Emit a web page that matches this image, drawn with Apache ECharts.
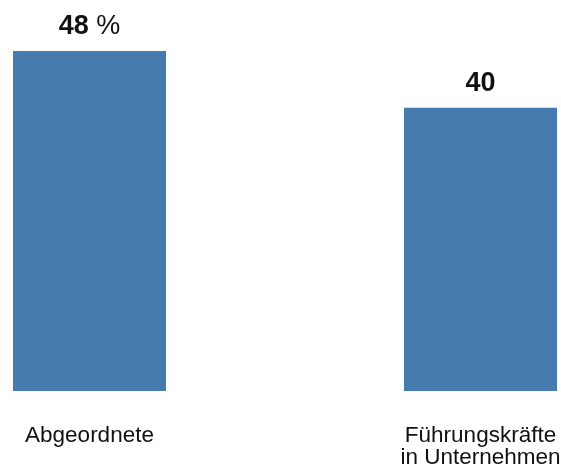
<!DOCTYPE html>
<html>
<head>
<meta charset="utf-8">
<script src="https://cdn.jsdelivr.net/npm/echarts@6/dist/echarts.min.js"></script>
<style>
  html, body { margin: 0; padding: 0; background: #fff; }
  #chart { width: 561px; height: 470px; }
</style>
</head>
<body>
<div id="chart"></div>
<script>
// Share of women (%) in two groups
const categories = ['Abgeordnete', 'Führungskräfte\nin Unternehmen'];
const values = [48, 40];
const valueLabels = ['{b|48}{p| %}', '{b|40}'];

const FONT = '"Liberation Sans", Arial, sans-serif';

const chart = echarts.init(document.getElementById('chart'), null, { renderer: 'canvas' });

chart.setOption({
  animation: false,
  backgroundColor: '#ffffff',
  // category ticks sit at the grid edges, bars centred on them
  grid: {
    left: 89.5, right: 80.5, top: 51, bottom: 79,
    containLabel: false,
    outerBoundsMode: 'none'
  },
  xAxis: {
    type: 'category',
    data: categories,
    boundaryGap: false,
    axisLine: { show: false },
    axisTick: { show: false },
    axisLabel: {
      margin: 34,
      color: '#111',
      fontFamily: FONT,
      fontSize: 22.5,
      lineHeight: 22,
      align: 'center'
    }
  },
  yAxis: {
    type: 'value',
    min: 0,
    max: 48,
    show: false,
    splitLine: { show: false }
  },
  series: [{
    type: 'bar',
    data: values,
    barWidth: 153,
    clip: false,
    itemStyle: { color: '#467BAD' },
    label: {
      show: true,
      position: 'top',
      distance: 11,
      formatter: function (p) { return valueLabels[p.dataIndex]; },
      rich: {
        b: { fontFamily: FONT, fontSize: 27, fontWeight: 'bold', color: '#111' },
        p: { fontFamily: FONT, fontSize: 27, fontWeight: 'normal', color: '#111' }
      }
    }
  }]
});
</script>
</body>
</html>
